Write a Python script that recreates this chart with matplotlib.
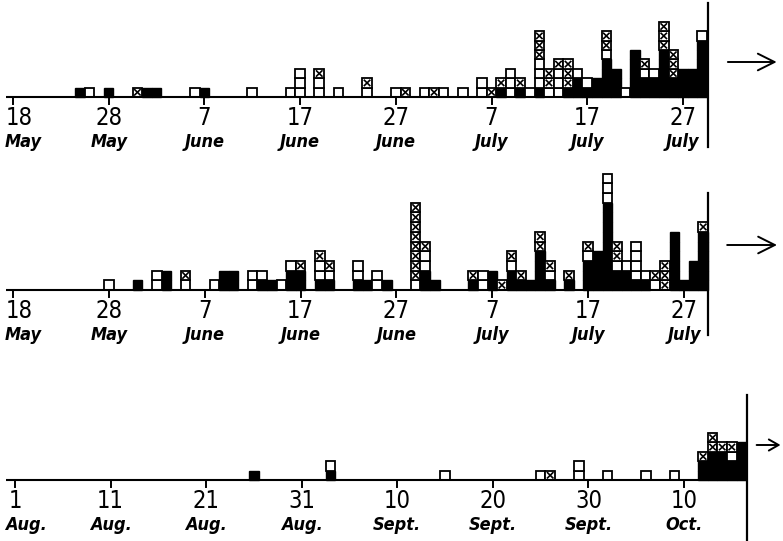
#!/usr/bin/python
########################
# Epidemic curves drawn as stacked squares, three panels
########################

#################################
# Importing Modules
#################################
import matplotlib
matplotlib.use("Agg")
import matplotlib.pyplot as plt
from matplotlib.patches import Rectangle

#################################
# Data (day offsets from the panel start, squares from the bottom up)
# B = black square, W = open square, X = crossed square
#################################
days1 = [7, 8, 10, 13, 14, 15, 19, 20, 25, 29, 30, 32, 34, 37, 40, 41, 43, 44,
         45, 47, 49, 50, 51, 52, 53, 54, 55, 56, 57, 58, 59, 60, 61, 62, 63, 64,
         65, 66, 67, 68, 69, 70, 71, 72]
stacks1 = ["B", "W", "B", "X", "B", "B", "W", "B", "W", "W", "WWW", "WWX", "W",
           "WX", "W", "X", "W", "X", "W", "W", "WW", "X", "BX", "WWW", "BX", "W",
           "BWWWXXX", "WXX", "WWWX", "BXXX", "BBW", "BW", "BB", "BBBBWXX", "BBB",
           "W", "BBBBB", "BBWX", "BBW", "BBBBBXXX", "BBXXX", "BBB", "BBB",
           "BBBBBBW"]

days2 = [10, 13, 15, 16, 18, 21, 22, 23, 25, 26, 27, 28, 29, 30, 32, 33, 36, 37,
         38, 39, 42, 43, 44, 48, 49, 50, 51, 52, 53, 54, 55, 56, 58, 60, 61, 62,
         63, 64, 65, 66, 67, 68, 69, 70, 71, 72]
stacks2 = ["W", "B", "WW", "BB", "WX", "W", "BB", "BB", "WW", "BW", "B", "W",
           "BBW", "BBX", "BWWX", "BWX", "BWW", "B", "WW", "B", "WXXXXXXXX",
           "BBWWX", "B", "BX", "WW", "BB", "X", "BBWX", "BX", "B", "BBBBXX",
           "BWX", "BX", "BBBWX", "BBBB", "BBBBBBBBBWWW", "BBWXX", "BBW", "BWWWW",
           "BW", "WX", "XXX", "BBBBBB", "B", "BBB", "BBBBBBX"]

days3 = [25, 33, 45, 55, 56, 59, 62, 66, 69, 72, 73, 74, 75, 76]
stacks3 = ["B", "BW", "W", "W", "X", "WW", "W", "W", "W", "BBX", "BBBXX",
           "BBBX", "BBWX", "BBBB"]

ticks = [0, 10, 20, 30, 40, 50, 60, 70]
nums1 = ["18", "28", "7", "17", "27", "7", "17", "27"]
months1 = ["May", "May", "June", "June", "June", "July", "July", "July"]
nums3 = ["1", "11", "21", "31", "10", "20", "30", "10"]
months3 = ["Aug.", "Aug.", "Aug.", "Aug.", "Sept.", "Sept.", "Sept.", "Oct."]

#################################
# Defining Constants (layout in pixels)
#################################
W, H = 783, 541
FONT = ["DejaVu Sans"]

# strip top, strip bottom, baseline y, x of day 0, px per day, px per square
PANELS = [
    dict(top=0, bot=160, base=97, x0=13, pxday=9.57, sq=9.4,
         end=72.6, line=(3, 147), arrow=(74.7, 79.8, 62), head=(1.2, 0.6)),
    dict(top=160, bot=365, base=290, x0=13, pxday=9.586, sq=9.7,
         end=72.5, line=(193, 335), arrow=(74.5, 79.7, 245), head=(1.2, 0.6)),
    dict(top=365, bot=541, base=480, x0=15, pxday=9.557, sq=9.4,
         end=76.6, line=(395, 540), arrow=(77.6, 80.1, 445), head=(0.7, 0.4)),
]


#################################
# Defining Functions
#################################
def draw_square(ax, x, y, kind):
    if kind == "B":
        ax.add_patch(Rectangle((x - 0.5, y), 1, 1, fc="black", ec="black", lw=1.0))
        return
    ax.add_patch(Rectangle((x - 0.5, y), 1, 1, fc="white", ec="black", lw=1.3))
    if kind == "X":
        d = 0.22
        ax.plot([x - 0.5 + d, x + 0.5 - d], [y + d, y + 1 - d], color="black", lw=1.2)
        ax.plot([x - 0.5 + d, x + 0.5 - d], [y + 1 - d, y + d], color="black", lw=1.2)


def draw_panel(fig, p, days, stacks, nums, months):
    ax = fig.add_axes([0, 1 - p["bot"] / H, 1, (p["bot"] - p["top"]) / H])
    ax.set_xlim(-p["x0"] / p["pxday"], (W - p["x0"]) / p["pxday"])
    ax.set_ylim(-(p["bot"] - p["base"]) / p["sq"], (p["base"] - p["top"]) / p["sq"])
    ax.axis("off")

    def ypx(px):  # pixel y in figure -> data y of this panel
        return (p["base"] - px) / p["sq"]

    start = (6 - p["x0"]) / p["pxday"]
    ax.plot([start, p["end"]], [0, 0], color="black", lw=1.5, solid_capstyle="butt")
    ax.plot([p["end"], p["end"]], [ypx(p["line"][1]), ypx(p["line"][0])],
            color="black", lw=1.6)

    for d, s in zip(days, stacks):
        for lvl, kind in enumerate(s):
            draw_square(ax, d, lvl, kind)

    tick_len = 7 / p["sq"]
    for i, (t, n, m) in enumerate(zip(ticks, nums, months)):
        ax.plot([t, t], [0, -tick_len], color="black", lw=1.4)
        tx, ha = t, "center"
        if i == 0 and len(n) > 1:
            tx, ha = (6 - p["x0"]) / p["pxday"], "left"
        ax.text(tx, ypx(p["base"] + 9), n, ha=ha, va="top", fontsize=17,
                family=FONT, stretch="condensed", color="black")
        if i == 0:
            ax.text((5 - p["x0"]) / p["pxday"], ypx(p["base"] + 36), m, ha="left",
                    va="top", fontsize=13, family=FONT, style="italic",
                    weight="bold", stretch="condensed", color="black")
        else:
            ax.text(t, ypx(p["base"] + 36), m, ha="center", va="top", fontsize=13,
                    family=FONT, style="italic", weight="bold",
                    stretch="condensed", color="black")

    x1, x2, ya = p["arrow"]
    hl, hw = p["head"]
    ax.annotate("", xy=(x2, ypx(ya)), xytext=(x1, ypx(ya)),
                arrowprops=dict(arrowstyle="->,head_length=%g,head_width=%g" % (hl, hw),
                                lw=1.4, color="black", shrinkA=0, shrinkB=0))
    return ax


#################################
# Performing Work
#################################
if __name__ == "__main__":
    fig = plt.figure(figsize=(W / 100, H / 100), dpi=100)
    fig.patch.set_facecolor("white")
    draw_panel(fig, PANELS[0], days1, stacks1, nums1, months1)
    draw_panel(fig, PANELS[1], days2, stacks2, nums1, months1)
    draw_panel(fig, PANELS[2], days3, stacks3, nums3, months3)
    fig.savefig("out.png", dpi=100, facecolor="white")
